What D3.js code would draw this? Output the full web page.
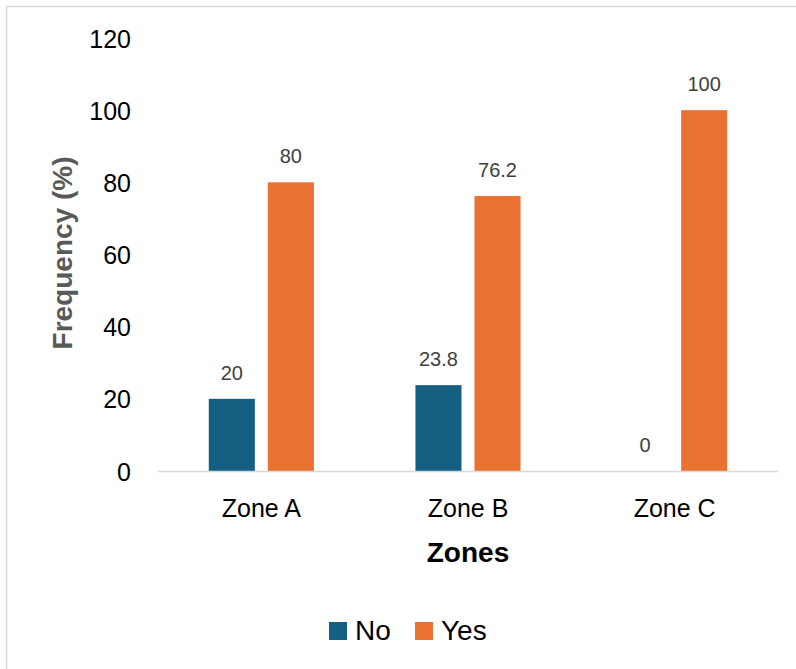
<!DOCTYPE html>
<html><head><meta charset="utf-8">
<script src="https://cdn.jsdelivr.net/npm/d3@7"></script>
<style>body{margin:0;background:#fff;}svg{display:block;font-family:"Liberation Sans",Arial,sans-serif;}</style>
</head><body>
<script>
const categories = ["Zone A", "Zone B", "Zone C"];
const seriesNames = ["No", "Yes"];
const noValues = [20, 23.8, 0];
const yesValues = [80, 76.2, 100];
const yTicks = [0, 20, 40, 60, 80, 100, 120];
const colors = ["#156082", "#E97132"];

(function () {
const W = 796, H = 669;
const FONT = "Liberation Sans, Arial, sans-serif";
const svg = d3.select("body").append("svg").attr("width", W).attr("height", H);
// frame (left & top visible)
svg.append("line").attr("x1", 6.5).attr("x2", 6.5).attr("y1", 6.5).attr("y2", H).attr("stroke", "#d9d9d9").attr("stroke-width", 1.5);
svg.append("line").attr("x1", 6.5).attr("x2", W).attr("y1", 6.5).attr("y2", 6.5).attr("stroke", "#d9d9d9").attr("stroke-width", 1.5);

const mLeft = 158, mRight = 778, mTop = 38, mBottom = 471;
const x = d3.scaleBand().domain(categories).range([mLeft, mRight]);
const xs = d3.scaleBand().domain(seriesNames).range([0, x.bandwidth()]).paddingInner(0.22).paddingOuter(0.86);
const y = d3.scaleLinear().domain([0, 120]).range([mBottom, mTop]);

const data = categories.map((c, i) => ({cat: c, vals: [noValues[i], yesValues[i]]}));

const g = svg.append("g");
data.forEach(d => {
  d.vals.forEach((v, j) => {
    const bx = x(d.cat) + xs(seriesNames[j]);
    if (v > 0) {
      g.append("rect").attr("x", bx).attr("y", y(v)).attr("width", xs.bandwidth())
        .attr("height", y(0) - y(v)).attr("fill", colors[j]);
    }
    g.append("text").attr("x", bx + xs.bandwidth() / 2).attr("y", y(v) - 19)
      .attr("text-anchor", "middle").attr("font-size", 20).attr("fill", "#404040").text(v);
  });
});

svg.append("line").attr("x1", mLeft).attr("x2", mRight).attr("y1", mBottom + 0.5).attr("y2", mBottom + 0.5)
  .attr("stroke", "#d9d9d9").attr("stroke-width", 1.5);

const yAxis = svg.append("g").attr("transform", `translate(${131},0)`)
  .call(d3.axisLeft(y).tickValues(yTicks).tickSize(0).tickPadding(0));
yAxis.select(".domain").remove();
yAxis.selectAll("text").attr("font-size", 25).attr("fill", "#000").attr("font-family", FONT).attr("dy", "0.36em");

const xAxis = svg.append("g").attr("transform", `translate(0,${mBottom})`)
  .call(d3.axisBottom(x).tickSize(0).tickPadding(0));
xAxis.select(".domain").remove();
xAxis.selectAll("text").attr("font-size", 25).attr("fill", "#000").attr("font-family", FONT).attr("y", 46).attr("dy", 0);

svg.append("text").attr("transform", `translate(72,253) rotate(-90)`).attr("text-anchor", "middle")
  .attr("font-size", 28).attr("font-weight", "bold").attr("fill", "#595959").text("Frequency (%)");
svg.append("text").attr("x", x("Zone B") + x.bandwidth() / 2).attr("y", 562).attr("text-anchor", "middle")
  .attr("font-size", 28).attr("font-weight", "bold").attr("fill", "#000").text("Zones");

const legendX = [329, 415];
seriesNames.forEach((s, j) => {
  svg.append("rect").attr("x", legendX[j]).attr("y", 622).attr("width", 18).attr("height", 18).attr("fill", colors[j]);
  svg.append("text").attr("x", legendX[j] + 26).attr("y", 640).attr("font-size", 28).attr("fill", "#000").text(s);
});
})();
</script>
</body></html>
